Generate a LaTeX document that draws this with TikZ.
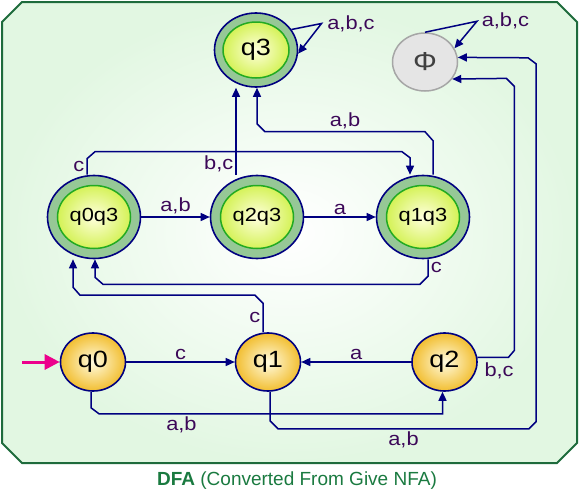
\documentclass[tikz,border=0pt]{standalone}
\usepackage{fontspec}
\setmainfont{Liberation Sans}[FakeStretch=1.15]
\newfontfamily\capfont{Liberation Sans}
\usepackage{tikz}
\usetikzlibrary{arrows.meta,shapes.geometric}
\definecolor{edgeblue}{HTML}{000080}
\definecolor{lblpurple}{HTML}{3C0858}
\definecolor{ringgreen}{HTML}{96C896}
\definecolor{innergreen}{HTML}{22AA22}
\definecolor{limecore}{HTML}{C8EE30}
\definecolor{limecentre}{HTML}{FFFFDD}
\definecolor{goldcore}{HTML}{F2BE30}
\definecolor{goldcentre}{HTML}{FFFBE0}
\definecolor{bggreen}{HTML}{E2F7E2}
\definecolor{framegreen}{HTML}{1E6B3C}
\definecolor{capgreen}{HTML}{1A7A40}

\begin{document}
\begin{tikzpicture}[x=1pt,y=-1pt,>={Triangle[length=9pt,width=8pt]},
    every node/.style={font=\fontsize{19}{21}\selectfont},
    state/.style={ellipse,draw=edgeblue,line width=1.6pt,inner sep=0pt,
      minimum width=65pt,minimum height=58pt,
      inner color=goldcentre,outer color=goldcore,font=\fontsize{23.5}{26}\selectfont},
    accept/.style n args={4}{ellipse,draw=edgeblue,line width=1.6pt,fill=ringgreen,inner sep=0pt,
      minimum width=#1,minimum height=#2,
      path picture={\shade[inner color=limecentre,outer color=limecore]
        (path picture bounding box.center) ellipse [x radius=#3,y radius=#4];
        \draw[innergreen,line width=1.5pt]
        (path picture bounding box.center) ellipse [x radius=#3,y radius=#4];}},
    lbl/.style={text=lblpurple,inner sep=2pt}]
  \useasboundingbox (0,0) rectangle (579,493);
  % background panel
  \shade[draw=framegreen,line width=2pt,inner color=white,outer color=bggreen]
    (2,22) -- (22,2) -- (557,2) -- (577,22) -- (577,443) -- (557,463) -- (22,463) -- (2,443) -- cycle;

  \node[accept={83pt}{74pt}{33pt}{28pt},font=\fontsize{23.5}{26}\selectfont] (q3) at (256,50) {q3};
  \node[ellipse,draw=black!35,line width=1.5pt,fill=black!10,inner sep=0pt,
    minimum width=65pt,minimum height=58pt,text=black!75,
    font=\fontsize{26}{28}\selectfont] (phi) at (425,62) {Φ};
  \node[accept={93pt}{83pt}{36.5pt}{31.5pt}] (q0q3) at (94,217) {q0q3};
  \node[accept={93pt}{83pt}{36.5pt}{31.5pt}] (q2q3) at (257,217) {q2q3};
  \node[accept={93pt}{83pt}{36.5pt}{31.5pt}] (q1q3) at (423,217) {q1q3};
  \node[state] (q0) at (93,362) {q0};
  \node[state] (q1) at (268,362) {q1};
  \node[state] (q2) at (444.5,362) {q2};
  \coordinate (start) at (22,362);

  \node[text=capgreen,font=\capfont\fontsize{19}{21}\selectfont] (caption) at (297,481)
    {\textbf{DFA} (Converted From Give NFA)};

  \tikzset{link/.style={->,draw=edgeblue,line width=1.5pt}}
  \draw[magenta,line width=3pt,-{Triangle[length=15pt,width=15pt]}] (start) -- (q0.west);
  % self loops
  \draw[link] (q3.30) -- ++(30,-6) node[lbl,right,xshift=3pt] {a,b,c} -- (q3.-5);
  \draw[link] (phi.north) -- ++(52,-11) node[lbl,right,xshift=2pt] {a,b,c} -- (phi.25);
  % bottom row
  \draw[link] (q0) -- node[lbl,above] {c} (q1);
  \draw[link] (q2) -- node[lbl,above] {a} (q1);
  \draw[link] ([xshift=-2pt]q0.south) -- ++(0,16) -- ++(8,6)
    -| node[lbl,below,pos=0.12] {a,b} ([xshift=-2pt]q2.south);
  \draw[link] ([xshift=2pt]q1.south) -- ++(0,29) -- ++(8,8) -- node[lbl,below] {a,b} ++(251,0)
    -- ++(7,-7) -- ++(0,-358) -- ++(-8,-6) -- (phi.8);
  \draw[link] (q2.8) -- node[lbl,below,pos=0.7,yshift=-3pt] {b,c} ++(31,0) -- ++(6,-7)
    -- ++(0,-264) -- ++(-8,-8) -- (phi.-32);
  \draw[link] ([xshift=-5pt]q1.north) -- node[lbl,left] {c} ++(0,-29) -- ++(-8,-8)
    -- ++(-175,0) -- ++(-7,-8) -- ([xshift=-21pt]q0q3.south);
  % middle row
  \draw[link] ([xshift=5pt]q1q3.south) -- node[lbl,right] {c} ++(0,17) -- ++(-8,8)
    -- ++(-317,0) -- ++(-8,-7) -- ([xshift=1pt]q0q3.south);
  \draw[link] (q0q3) -- node[lbl,above] {a,b} (q2q3);
  \draw[link] (q2q3) -- node[lbl,above] {a} (q1q3);
  \draw[link] ([xshift=-7pt]q0q3.north) -- node[lbl,left] {c} ++(0,-16) -- ++(8,-7)
    -- ++(307,0) -- ++(8,6) -- ([xshift=-13pt]q1q3.north);
  \draw[link] ([xshift=-21pt]q2q3.north) -- node[lbl,left,pos=0.12] {b,c} ([xshift=-20pt]q3.south);
  \draw[link] ([xshift=10pt]q1q3.north) -- ++(0,-34) -- ++(-8,-9) -- node[lbl,above] {a,b} ++(-160,0)
    -- ++(-8,-8) -- ([xshift=1pt]q3.south);
\end{tikzpicture}
\end{document}
